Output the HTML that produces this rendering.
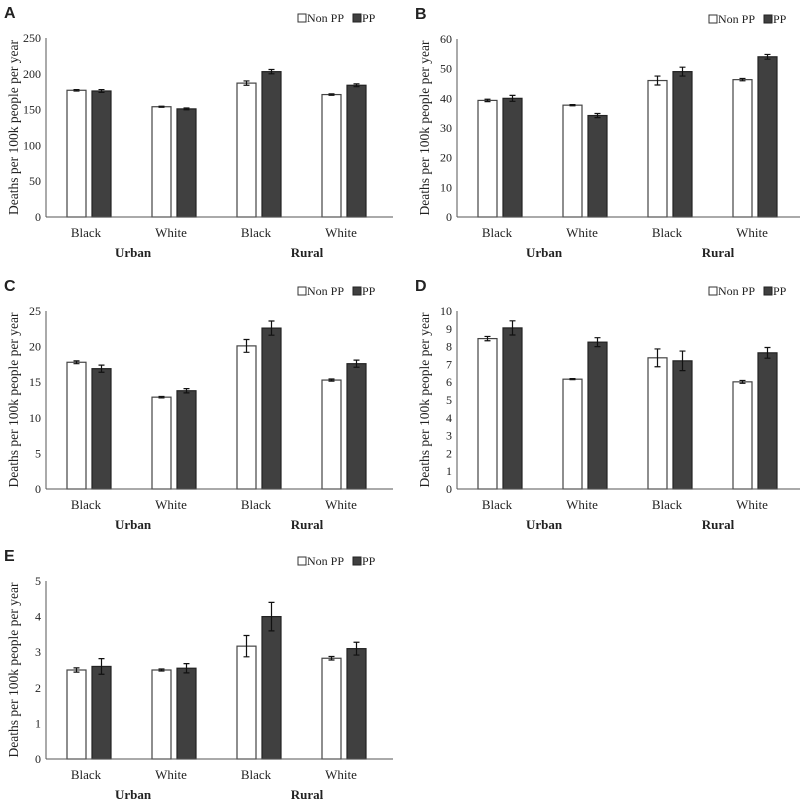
<!DOCTYPE html>
<html><head><meta charset="utf-8"><style>
html,body{margin:0;padding:0;background:#fff;}
svg text{font-family:"Liberation Serif",serif;fill:#222;}
</style></head><body>
<svg id="chart" width="800" height="801" viewBox="0 0 800 801" xmlns="http://www.w3.org/2000/svg"></svg>
<script>
const categories = ["Black","White","Black","White"];
const groups = ["Urban","Rural"];
const seriesNames = ["Non PP","PP"];
const aNon = [177,154,187,171];
const aPP = [176,151,203,184];
const aNonErr = [1,0.8,3,1];
const aPPErr = [2,1.2,3,2];
const aTicks = [0,50,100,150,200,250];
const bNon = [39.3,37.7,46,46.3];
const bPP = [40,34.2,49,54];
const bNonErr = [0.4,0.2,1.5,0.4];
const bPPErr = [1,0.7,1.5,0.8];
const bTicks = [0,10,20,30,40,50,60];
const cNon = [17.8,12.9,20.1,15.3];
const cPP = [16.9,13.8,22.6,17.6];
const cNonErr = [0.2,0.1,0.9,0.15];
const cPPErr = [0.5,0.3,1.0,0.5];
const cTicks = [0,5,10,15,20,25];
const dNon = [8.45,6.17,7.37,6.02];
const dPP = [9.05,8.25,7.2,7.65];
const dNonErr = [0.12,0.03,0.5,0.08];
const dPPErr = [0.4,0.25,0.55,0.3];
const dTicks = [0,1,2,3,4,5,6,7,8,9,10];
const eNon = [2.5,2.5,3.17,2.83];
const ePP = [2.6,2.55,4.0,3.1];
const eNonErr = [0.06,0.03,0.3,0.05];
const ePPErr = [0.22,0.13,0.4,0.18];
const eTicks = [0,1,2,3,4,5];

const svg = document.getElementById('chart');
const NS = 'http://www.w3.org/2000/svg';
function mk(tag, attrs, parent){const e=document.createElementNS(NS,tag);for(const k in attrs)e.setAttribute(k,attrs[k]);(parent||svg).appendChild(e);return e;}

function panel(letter, ox, y0, ytop, non, pp, nonErr, ppErr, ticks){
  const g = mk('g',{});
  
  
  const left = ox+46, right = ox+393;
  const ymax = ticks[ticks.length-1];
  const y = v => y0 - (v/ymax)*(y0-ytop);
  const cx = i => ox + 89 + i*85;
  const t = mk('text',{x:ox+4,y:ytop-20,'font-size':16,'font-weight':'bold',style:'font-family:"Liberation Sans",sans-serif'},g);
  t.textContent = letter;
  
  
  // legend
  const lg = mk('g',{},g);
  
  
  mk('rect',{x:ox+298,y:ytop-24,width:8,height:8,fill:'#fff',stroke:'#333','stroke-width':1},lg);
  const l1=mk('text',{x:ox+307,y:ytop-16,'font-size':12},lg); l1.textContent=seriesNames[0];
  mk('rect',{x:ox+353,y:ytop-24,width:8,height:8,fill:'#404040',stroke:'#222','stroke-width':1},lg);
  const l2=mk('text',{x:ox+362,y:ytop-16,'font-size':12},lg); l2.textContent=seriesNames[1];
  // ticks
  ticks.forEach(v=>{
    const tt=mk('text',{x:left-5,y:y(v)+4,'font-size':12,'text-anchor':'end'},g);
    tt.textContent=v;
    
    
  });
  const yl=mk('text',{x:0,y:0,'font-size':13.5,'text-anchor':'middle',transform:`translate(${ox+18},${(y0+ytop)/2}) rotate(-90)`},g);
  yl.textContent='Deaths per 100k people per year';
  
  
  // bars
  const series=[[non,nonErr,'#fff',-22],[pp,ppErr,'#404040',3]];
  series.forEach((s,si)=>{
    s[0].forEach((v,i)=>{
      const b=mk('rect',{x:cx(i)+s[3],y:y(v),width:19,height:y0-y(v),fill:s[2],stroke:si?'#222':'#444','stroke-width':1.2},g);
      
      
      const ex=cx(i)+s[3]+9.5, e=s[1][i];
      const eg=mk('path',{d:`M${ex},${y(v+e)}V${y(v-e)}M${ex-3},${y(v+e)}H${ex+3}M${ex-3},${y(v-e)}H${ex+3}`,stroke:'#111','stroke-width':1.2,fill:'none'},g);
      
      
    });
  });
  // axes
  mk('line',{x1:left,y1:ytop,x2:left,y2:y0,stroke:'#555','stroke-width':1},g);
  mk('line',{x1:left,y1:y0,x2:right,y2:y0,stroke:'#555','stroke-width':1},g);
  categories.forEach((c,i)=>{
    const ct=mk('text',{x:cx(i)-3,y:y0+20,'font-size':13,'text-anchor':'middle'},g);
    ct.textContent=c;
    
    
  });
  groups.forEach((gname,i)=>{
    const gt=mk('text',{x:ox+133+i*174,y:y0+40,'font-size':13,'font-weight':'bold','text-anchor':'middle'},g);
    gt.textContent=gname;
    
    
  });
}
panel('A',0,217,38,aNon,aPP,aNonErr,aPPErr,aTicks);
panel('B',411,217,39,bNon,bPP,bNonErr,bPPErr,bTicks);
panel('C',0,489,311,cNon,cPP,cNonErr,cPPErr,cTicks);
panel('D',411,489,311,dNon,dPP,dNonErr,dPPErr,dTicks);
panel('E',0,759,581,eNon,ePP,eNonErr,ePPErr,eTicks);
</script>
</body></html>
